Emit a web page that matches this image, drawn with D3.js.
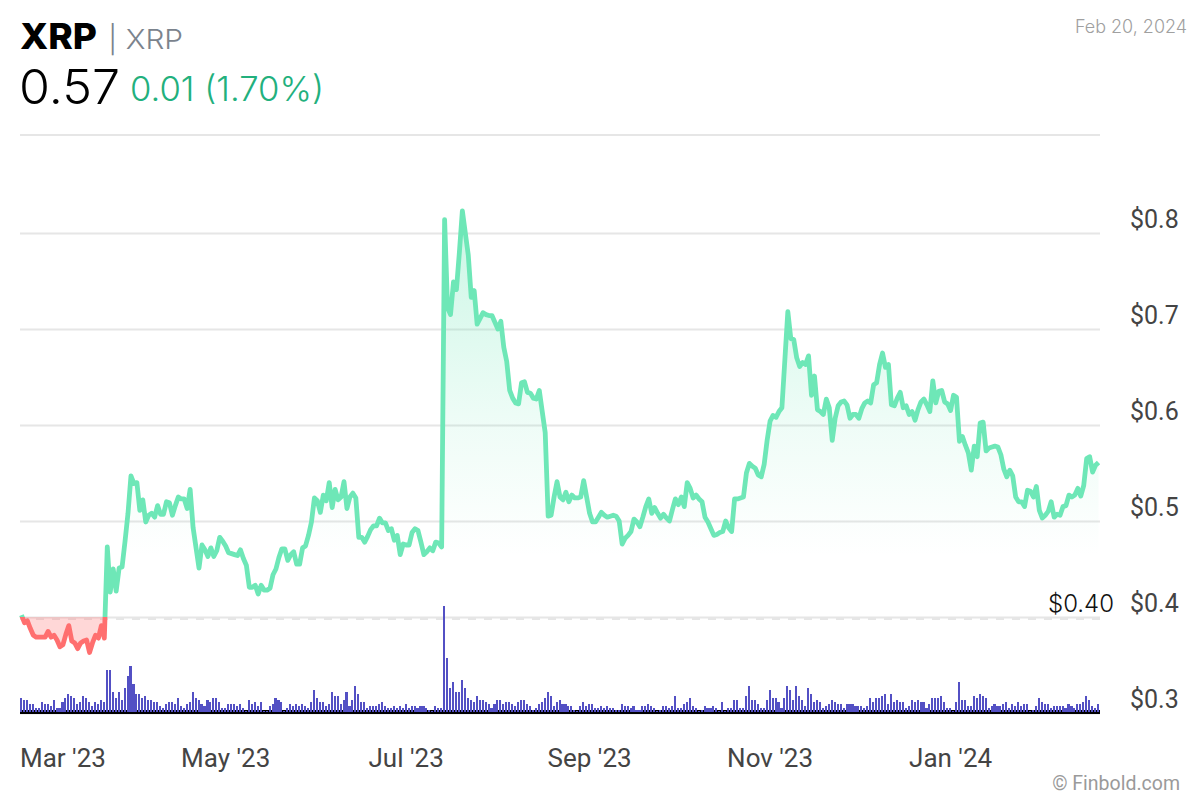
<!DOCTYPE html>
<html>
<head>
<meta charset="utf-8">
<title>XRP</title>
<script src="https://cdn.jsdelivr.net/npm/d3@7"></script>
<style>
  html, body { margin: 0; padding: 0; background: #fff; }
  svg { display: block; }
</style>
</head>
<body>
<svg id="chart" width="1200" height="800"></svg>
<script>
// daily XRP close in USD, Feb 21 2023 to Feb 20 2024
const priceValues = [
  .402,.394,.396,.388,.381,.379,.379,.379,.379,.385,
  .379,.381,.376,.369,.371,.382,.391,.375,.373,.367,
  .373,.375,.376,.363,.373,.381,.378,.391,.378,.473,
  .426,.450,.427,.451,.452,.479,.508,.547,.539,.540,
  .511,.522,.499,.506,.508,.504,.516,.507,.507,.520,
  .519,.506,.516,.525,.523,.523,.513,.533,.493,.472,
  .451,.475,.470,.463,.472,.463,.469,.483,.479,.474,
  .467,.466,.465,.464,.470,.461,.454,.431,.431,.433,
  .424,.433,.428,.428,.430,.444,.450,.462,.471,.471,
  .459,.465,.468,.455,.455,.472,.474,.485,.499,.524,
  .521,.509,.527,.521,.540,.514,.533,.522,.525,.541,
  .513,.525,.529,.524,.483,.483,.478,.484,.491,.495,
  .495,.503,.498,.498,.490,.492,.480,.485,.465,.476,
  .475,.475,.488,.492,.490,.478,.465,.468,.472,.469,
  .478,.477,.473,.814,.722,.715,.749,.741,.780,.823,
  .800,.777,.733,.740,.705,.711,.717,.715,.714,.714,
  .707,.700,.708,.681,.666,.636,.628,.623,.622,.644,
  .645,.634,.633,.628,.627,.636,.614,.592,.505,.506,
  .525,.541,.525,.522,.530,.520,.527,.524,.524,.525,
  .542,.525,.508,.499,.499,.504,.509,.506,.504,.505,
  .506,.505,.500,.476,.482,.485,.489,.502,.499,.494,
  .504,.515,.523,.508,.514,.508,.503,.507,.503,.500,
  .512,.523,.517,.525,.515,.540,.534,.524,.527,.523,
  .520,.504,.499,.492,.485,.486,.488,.489,.500,.493,
  .489,.523,.523,.524,.525,.550,.560,.557,.555,.548,
  .546,.559,.584,.604,.610,.608,.614,.618,.668,.718,
  .690,.689,.670,.661,.665,.663,.672,.631,.651,.616,
  .614,.611,.627,.618,.584,.607,.620,.624,.625,.621,
  .607,.611,.611,.607,.617,.623,.625,.623,.642,.644,
  .663,.675,.660,.663,.621,.620,.628,.634,.618,.620,
  .611,.614,.605,.616,.624,.627,.621,.614,.646,.623,
  .635,.636,.624,.622,.615,.631,.629,.583,.588,.579,
  .571,.553,.578,.567,.602,.603,.573,.576,.577,.578,
  .577,.569,.554,.546,.553,.547,.525,.520,.520,.515,
  .532,.531,.525,.536,.511,.503,.506,.510,.520,.504,
  .507,.506,.515,.516,.527,.525,.527,.534,.526,.537,
  .565,.567,.551,.558,.561
];

// daily volume, in hundreds of millions of USD (rough, no scale on the chart)
const volumeValues = [
  14,12,12,8,8,4,4,10,8,8,
  6,12,4,4,10,14,18,16,14,8,
  10,16,14,10,6,10,8,12,10,42,
  42,20,14,20,12,24,36,46,28,18,
  18,14,16,12,12,10,10,6,4,8,
  10,10,8,14,6,4,8,10,20,14,
  12,8,6,12,10,14,14,10,4,4,
  8,8,8,6,8,4,1,12,8,10,
  6,10,1,1,6,8,14,12,10,1,
  4,8,6,8,6,8,6,4,10,22,
  14,10,10,6,8,20,16,16,8,12,
  20,6,12,26,18,10,10,4,6,6,
  6,8,10,6,4,4,6,4,6,4,
  8,4,6,6,4,6,6,4,2,1,
  6,4,4,106,54,24,30,20,20,32,
  24,14,12,10,16,12,12,10,8,4,
  8,12,12,8,10,10,8,6,10,12,
  12,8,6,2,4,8,10,14,20,16,
  6,10,12,8,8,6,6,2,1,6,
  10,6,8,8,4,4,6,4,6,4,
  4,2,2,8,6,6,4,6,2,2,
  6,6,8,6,4,1,2,6,6,4,
  6,16,4,4,8,10,14,6,4,1,
  2,6,4,4,6,4,1,10,1,4,
  4,12,12,4,4,16,26,12,12,8,
  4,4,12,22,14,14,10,4,14,26,
  22,12,26,16,12,6,24,18,10,12,
  10,4,6,8,12,10,8,8,4,8,
  8,8,6,6,6,4,6,14,10,14,
  14,16,18,8,18,10,12,10,10,4,
  6,12,10,12,10,10,4,8,14,14,
  14,16,10,4,4,1,10,30,12,12,
  6,6,16,14,18,16,14,4,6,8,
  6,6,8,10,4,8,6,10,6,8,
  8,1,2,6,14,10,8,8,4,6,
  6,6,6,4,8,6,4,8,8,10,
  16,12,6,4,8
];

const priceTicks = [0.3, 0.4, 0.5, 0.6, 0.7, 0.8];
const monthTicks = [
  new Date(2023, 2, 1), new Date(2023, 4, 1), new Date(2023, 6, 1),
  new Date(2023, 8, 1), new Date(2023, 10, 1), new Date(2024, 0, 1)
];
const baselinePrice = 0.4;

const svg = d3.select("#chart");
const left = 20, right = 1100;

// one band per day, the line runs through the band centres
const days = d3.timeDay.range(new Date(2023, 1, 21), new Date(2024, 1, 21));
const x = d3.scaleBand().domain(days).range([left, right]);
const cx = i => x(days[i]) + x.bandwidth() / 2;
const y = d3.scaleLinear().domain([0.3, 0.9]).range([713, 137]);
const yVol = d3.scaleLinear().domain([0, 107]).range([712, 605]);

const defs = svg.append("defs");
const grad = defs.append("linearGradient").attr("id", "greenFill")
  .attr("gradientUnits", "userSpaceOnUse")
  .attr("x1", 0).attr("x2", 0).attr("y1", y(0.82)).attr("y2", y(baselinePrice));
grad.append("stop").attr("offset", 0).attr("stop-color", "#6ee7b7").attr("stop-opacity", 0.36);
grad.append("stop").attr("offset", 0.53).attr("stop-color", "#6ee7b7").attr("stop-opacity", 0.11);
grad.append("stop").attr("offset", 0.76).attr("stop-color", "#6ee7b7").attr("stop-opacity", 0.03);
grad.append("stop").attr("offset", 0.85).attr("stop-color", "#6ee7b7").attr("stop-opacity", 0);

defs.append("clipPath").attr("id", "aboveBase").append("rect")
  .attr("x", 0).attr("y", 0).attr("width", 1200).attr("height", y(baselinePrice));
defs.append("clipPath").attr("id", "belowBase").append("rect")
  .attr("x", 0).attr("y", y(baselinePrice)).attr("width", 1200).attr("height", 200);

// top frame line
svg.append("line").attr("x1", left).attr("x2", right).attr("y1", 135).attr("y2", 135)
  .attr("stroke", "#e6e6e6").attr("stroke-width", 2);

// price axis, ticks double as the gridlines
const yAxis = svg.append("g")
  .attr("transform", `translate(${right},0)`)
  .call(d3.axisRight(y).tickValues(priceTicks).tickSize(-(right - left)).tickFormat(d3.format("$.1f")));
yAxis.select(".domain").remove();
yAxis.selectAll("line").attr("stroke", "#e6e6e6").attr("stroke-width", 2);
yAxis.selectAll("text")
  .attr("x", 30).attr("y", -6).attr("dy", 0)
  .attr("font-family", "Roboto").attr("font-size", 25).attr("fill", "#444");

// dashed previous close marker under the 0.4 gridline
svg.append("line").attr("x1", left).attr("x2", right)
  .attr("y1", y(baselinePrice) + 2).attr("y2", y(baselinePrice) + 2)
  .attr("stroke", "#e6e6e6").attr("stroke-width", 2).attr("stroke-dasharray", "8 8");

const area = d3.area().x((d, i) => cx(i)).y0(y(baselinePrice)).y1(d => y(d));
const line = d3.line().x((d, i) => cx(i)).y(d => y(d));

svg.append("path").datum(priceValues).attr("d", area)
  .attr("fill", "url(#greenFill)").attr("clip-path", "url(#aboveBase)");
svg.append("path").datum(priceValues).attr("d", area)
  .attr("fill", "#ff6f6f").attr("fill-opacity", 0.28).attr("clip-path", "url(#belowBase)");

svg.append("path").datum(priceValues).attr("d", line)
  .attr("fill", "none").attr("stroke", "#6ee7b7").attr("stroke-width", 4.8)
  .attr("stroke-linejoin", "round").attr("clip-path", "url(#aboveBase)");
svg.append("path").datum(priceValues).attr("d", line)
  .attr("fill", "none").attr("stroke", "#ff6f6f").attr("stroke-width", 4.8)
  .attr("stroke-linejoin", "round").attr("clip-path", "url(#belowBase)");

// volume baseline then bars
svg.append("line").attr("x1", left).attr("x2", right).attr("y1", yVol(0)).attr("y2", yVol(0))
  .attr("stroke", "#000").attr("stroke-width", 4);
svg.append("g").selectAll("rect").data(volumeValues).join("rect")
  .attr("x", (d, i) => x(days[i]))
  .attr("width", 2.1)
  .attr("y", d => yVol(d))
  .attr("height", d => yVol(0) - yVol(d))
  .attr("fill", "#5350c4")
  .attr("shape-rendering", "crispEdges");

// month labels, the first one is pushed in so it starts at the plot edge
const xAxis = svg.append("g")
  .attr("transform", "translate(0,745)")
  .call(d3.axisBottom(x).tickValues(monthTicks).tickSize(0).tickFormat(d3.timeFormat("%b '%y")));
xAxis.select(".domain").remove();
xAxis.selectAll("text")
  .attr("y", 22).attr("dy", 0)
  .attr("font-family", "Roboto").attr("font-size", 26).attr("fill", "#444");
xAxis.select(".tick text")
  .attr("text-anchor", "start")
  .attr("x", d => left - (x(d) + x.bandwidth() / 2));

// header texts
function label(txt, px, py, size, weight, color, width, anchor) {
  const t = svg.append("text").text(txt)
    .attr("x", px).attr("y", py)
    .attr("font-family", "Inter").attr("font-size", size).attr("font-weight", weight)
    .attr("fill", color).attr("text-anchor", anchor || "start");
  if (width) t.attr("textLength", width).attr("lengthAdjust", "spacingAndGlyphs");
  return t;
}
label("XRP", 20, 49, 36, 800, "#000", 77);
label("| XRP", 108, 49, 27, 300, "#7b838d", 75);
label("0.57", 19, 104, 48, 300, "#000", 101);
label("0.01 (1.70%)", 130, 101, 34, 300, "#22b07d", 194);
label("Feb 20, 2024", 1075, 33, 18, 300, "#a0a0a0", 112);
label(d3.format("$.2f")(baselinePrice), 1048, 612, 24, 300, "#111", 66);

svg.append("text").text("© Finbold.com")
  .attr("x", 1180).attr("y", 790).attr("text-anchor", "end")
  .attr("font-family", "Roboto").attr("font-size", 19.5).attr("fill", "#9a9a9a");
</script>
</body>
</html>
